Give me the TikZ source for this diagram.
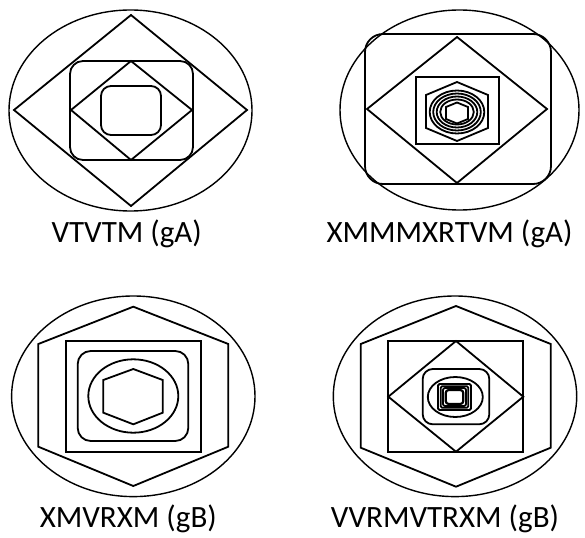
\documentclass[tikz,border=0pt]{standalone}
\usepackage{fontspec}
\setmainfont{Carlito}
\begin{document}
\begin{tikzpicture}[x=1pt,y=-1pt,
  ln/.style={line width=1.8pt, line join=miter},
  oval/.style={line width=1.4pt},
  lbl/.style={anchor=base, inner sep=0pt, font=\fontsize{31}{36}\selectfont}]
\useasboundingbox (0,0) rectangle (585,537);
% ---------- Figure 1 ----------
\draw[oval] (130.5,110.5) ellipse [x radius=121.5, y radius=100.5];
\draw[ln] (131,15) -- (247,110) -- (131,206) -- (14,110) -- cycle;
\draw[ln, rounded corners=13pt] (70,61) rectangle (193,160);
\draw[ln] (131,61) -- (192,110) -- (131,160) -- (71,110) -- cycle;
\draw[ln, rounded corners=10pt] (101,86) rectangle (161,135);
\node[lbl] (l1) at (126.7,242) {VTVTM (gA)};
% ---------- Figure 2 ----------
\draw[oval] (459.5,110) ellipse [x radius=119.5, y radius=100];
\draw[ln, rounded corners=18pt] (365,34) rectangle (551,184);
\draw[ln] (457,37) -- (547,109) -- (457,183) -- (367,109) -- cycle;
\draw[ln] (416,77) rectangle (499,144);
\draw[ln] (457,82) -- (488,95) -- (488,128) -- (457,141) -- (426,128) -- (426,95) -- cycle;
\draw[ln] (457,112) ellipse [x radius=27.3, y radius=21.5];
\draw[ln] (457,112) ellipse [x radius=23.8, y radius=18.5];
\draw[ln] (457,112) ellipse [x radius=20.3, y radius=15.5];
\draw[ln] (457,112) ellipse [x radius=16.8, y radius=12.5];
\draw[ln] (457,102.5) -- (468,107) -- (468,119) -- (457,123.5) -- (446,119) -- (446,107) -- cycle;
\node[lbl] (l2) at (449.5,242) {XMMMXRTVM (gA)};
% ---------- Figure 3 ----------
\draw[oval] (133.3,396.3) ellipse [x radius=121.7, y radius=100.3];
\draw[ln] (133.3,306.7) -- (228.3,344) -- (228.3,446.7) -- (133.3,486) -- (38.3,446.7) -- (38.3,344) -- cycle;
\draw[ln] (66,341) rectangle (201,451.7);
\draw[ln, rounded corners=13pt] (77.7,351) rectangle (188.3,441);
\draw[ln] (133.3,396) ellipse [x radius=45, y radius=36.7];
\draw[ln] (133.3,369) -- (162.7,380) -- (162.7,412.7) -- (133.3,424.3) -- (103.3,412.7) -- (103.3,380) -- cycle;
\node[lbl] (l3) at (128.3,527) {XMVRXM (gB)};
% ---------- Figure 4 ----------
\draw[oval] (455,396.3) ellipse [x radius=121.7, y radius=100.3];
\draw[ln] (456,306) -- (550.7,344) -- (550.7,447.7) -- (456,486.7) -- (360.7,447.7) -- (360.7,344) -- cycle;
\draw[ln] (388.3,341) rectangle (523.3,451.7);
\draw[ln] (456,341) -- (523.3,396.7) -- (456,451.7) -- (388.3,396.7) -- cycle;
\draw[ln, rounded corners=10pt] (422.7,369) rectangle (489.3,424.3);
\draw[ln] (455.3,397) ellipse [x radius=27.5, y radius=20];
\draw[ln, rounded corners=1.5pt] (438,384) rectangle (471,410);
\draw[ln, rounded corners=1.5pt] (440.7,386.2) rectangle (468.3,407.8);
\draw[ln, rounded corners=2pt] (443,388) rectangle (466,406);
\draw[ln, line width=2.2pt, rounded corners=3pt] (445.7,390) rectangle (463.3,404);
\node[lbl] (l4) at (445,527) {VVRMVTRXM (gB)};
\end{tikzpicture}
\end{document}
